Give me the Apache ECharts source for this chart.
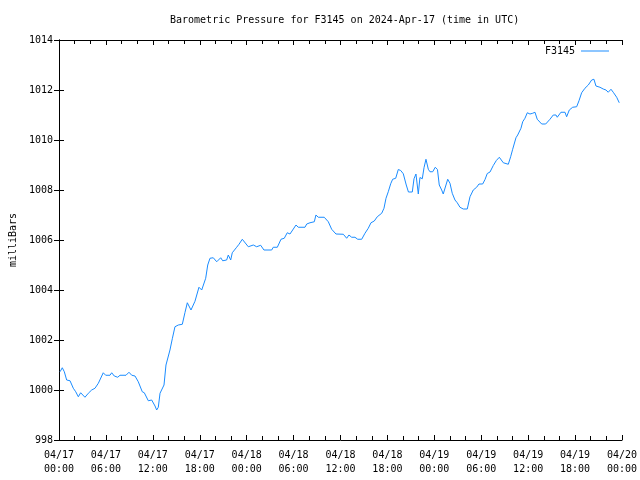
<!DOCTYPE html>
<html>
<head>
<meta charset="utf-8">
<script src="https://cdn.jsdelivr.net/npm/echarts@6/dist/echarts.min.js"></script>
<style>html,body{margin:0;padding:0;background:#fff;}#c{width:640px;height:480px;}</style>
</head>
<body>
<div id="c"></div>
<script>
// hours since 2024-04-17 00:00 UTC
var hours = [0.13,0.42,0.68,0.98,1.41,1.83,2.14,2.47,2.77,3.32,3.75,4.18,4.60,5.03,5.66,5.97,6.52,6.74,7.07,7.51,7.80,8.57,8.95,9.30,9.72,10.14,10.65,10.91,11.42,11.85,12.28,12.49,12.70,12.92,13.13,13.43,13.68,14.19,14.49,14.83,15.26,15.77,16.11,16.41,16.88,17.39,17.90,18.25,18.45,18.76,19.02,19.31,19.73,20.17,20.68,20.93,21.44,21.65,21.96,22.16,22.72,23.02,23.44,24.21,24.85,25.28,25.79,26.21,27.20,27.40,27.92,28.39,28.81,29.19,29.54,30.31,30.60,31.46,31.68,32.10,32.65,32.86,33.16,33.92,34.44,34.87,35.42,36.36,36.79,37.08,37.43,37.85,38.20,38.71,39.13,39.55,39.90,40.32,40.70,41.27,41.56,41.82,42.11,42.42,42.67,43.06,43.39,43.70,44.03,44.41,44.69,45.18,45.40,45.65,45.95,46.16,46.46,46.68,46.93,47.23,47.44,47.79,48.12,48.40,48.63,48.94,49.14,49.49,49.71,50.00,50.29,50.64,50.93,51.28,51.70,52.21,52.56,52.98,53.41,53.71,54.18,54.48,54.77,55.12,55.54,55.93,56.31,56.49,56.82,57.03,57.46,57.76,58.02,58.22,58.44,58.66,58.86,59.08,59.30,59.59,59.89,60.23,60.58,60.87,61.16,61.73,62.24,62.79,63.21,63.56,63.72,64.19,64.71,64.92,65.26,65.69,66.20,66.50,66.84,67.26,67.69,68.12,68.41,68.67,68.89,69.18,69.60,69.95,70.24,70.59,70.88,71.32,71.65];
var pressure = [1000.73,1000.89,1000.73,1000.40,1000.37,1000.07,999.93,999.73,999.89,999.71,999.87,1000.00,1000.07,1000.27,1000.69,1000.59,1000.59,1000.69,1000.56,1000.51,1000.59,1000.59,1000.71,1000.59,1000.56,1000.33,999.93,999.89,999.57,999.60,999.36,999.20,999.31,999.87,999.93,1000.20,1001.00,1001.60,1002.05,1002.53,1002.60,1002.63,1003.10,1003.49,1003.20,1003.55,1004.11,1004.00,1004.00,1004.47,1005.00,1005.27,1005.29,1005.13,1005.29,1005.17,1005.20,1005.40,1005.20,1005.49,1005.71,1005.83,1006.03,1005.73,1005.80,1005.73,1005.79,1005.60,1005.60,1005.71,1005.71,1006.03,1006.07,1006.29,1006.24,1006.60,1006.51,1006.51,1006.64,1006.69,1006.73,1007.00,1006.91,1006.91,1006.73,1006.43,1006.24,1006.23,1006.07,1006.20,1006.11,1006.11,1006.03,1006.03,1006.27,1006.47,1006.69,1006.76,1006.93,1007.07,1007.27,1007.67,1007.93,1008.25,1008.43,1008.47,1008.82,1008.78,1008.65,1008.20,1007.92,1007.92,1008.45,1008.64,1007.84,1008.50,1008.45,1008.89,1009.23,1008.83,1008.73,1008.73,1008.91,1008.82,1008.20,1008.00,1007.84,1008.20,1008.43,1008.27,1007.87,1007.60,1007.49,1007.31,1007.24,1007.24,1007.73,1008.00,1008.11,1008.24,1008.24,1008.42,1008.66,1008.72,1008.98,1009.18,1009.31,1009.31,1009.09,1009.03,1009.03,1009.33,1009.63,1009.71,1010.09,1010.20,1010.13,1010.47,1010.73,1010.87,1011.09,1011.04,1011.07,1011.11,1010.83,1010.64,1010.64,1010.83,1011.00,1011.00,1010.91,1011.11,1011.11,1010.93,1011.20,1011.31,1011.33,1011.57,1011.89,1012.07,1012.20,1012.40,1012.43,1012.16,1012.23,1012.11,1012.04,1012.00,1011.91,1012.03,1011.91,1011.71,1011.49];
var xTickLabels = ["04/17\n00:00","04/17\n06:00","04/17\n12:00","04/17\n18:00","04/18\n00:00","04/18\n06:00","04/18\n12:00","04/18\n18:00","04/19\n00:00","04/19\n06:00","04/19\n12:00","04/19\n18:00","04/20\n00:00"];
var seriesName = "F3145";
var titleText = "Barometric Pressure for F3145 on 2024-Apr-17 (time in UTC)";
var yName = "milliBars";

var data = hours.map(function(h, i){ return [h, pressure[i]]; });
var FONT = "DejaVu Sans Mono";
var lineCol = "#1a8cff";

var chart = echarts.init(document.getElementById('c'), null, {renderer: 'canvas'});
var axisLineStyle = {show: true, lineStyle: {color: '#000', width: 1}};
chart.setOption({
  animation: false,
  backgroundColor: '#fff',
  title: {
    text: titleText, left: 165, top: 10,
    textStyle: {fontFamily: FONT, fontSize: 10, fontWeight: 'normal', color: '#000'}
  },
  legend: {
    data: [{name: seriesName, icon: 'rect'}],
    right: 31, top: 46, align: 'right', padding: 0,
    itemWidth: 28, itemHeight: 1, itemGap: 5,
    textStyle: {fontFamily: FONT, fontSize: 10, color: '#000', padding: [0, 1, 0, 0]}
  },
  grid: {left: 59, right: 18, top: 40, bottom: 40, containLabel: false, outerBoundsMode: 'none'},
  xAxis: [{
    type: 'value', min: 0, max: 72, interval: 6, position: 'bottom',
    axisLine: axisLineStyle,
    axisTick: {show: true, inside: true, length: 5, lineStyle: {color: '#000'}},
    minorTick: {show: true, splitNumber: 3, length: 4, lineStyle: {color: '#000'}},
    splitLine: {show: false},
    axisLabel: {
      margin: 8, fontFamily: FONT, fontSize: 10, color: '#000', lineHeight: 14,
      formatter: function(v){ return xTickLabels[Math.round(v / 6)]; }
    }
  }, {
    type: 'value', min: 0, max: 72, interval: 6, position: 'top',
    axisLine: axisLineStyle,
    axisTick: {show: true, inside: true, length: 5, lineStyle: {color: '#000'}},
    minorTick: {show: true, splitNumber: 3, length: 4, lineStyle: {color: '#000'}},
    splitLine: {show: false},
    axisLabel: {show: false}
  }],
  yAxis: [{
    type: 'value', min: 998, max: 1014, interval: 2, position: 'left',
    name: yName, nameLocation: 'middle', nameGap: 38, nameRotate: 90,
    nameTextStyle: {fontFamily: FONT, fontSize: 10, color: '#000'},
    axisLine: axisLineStyle,
    axisTick: {show: true, inside: true, length: 5, lineStyle: {color: '#000'}},
    splitLine: {show: false},
    axisLabel: {margin: 6, fontFamily: FONT, fontSize: 10, color: '#000',
      formatter: function(v){ return String(v); }}
  }, {
    type: 'value', min: 998, max: 1014, interval: 2, position: 'right',
    axisLine: axisLineStyle,
    axisTick: {show: true, inside: true, length: 5, lineStyle: {color: '#000'}},
    splitLine: {show: false},
    axisLabel: {show: false}
  }],
  series: [{
    name: seriesName, type: 'line', data: data,
    xAxisIndex: 0, yAxisIndex: 0,
    showSymbol: false, symbol: 'none',
    lineStyle: {color: lineCol, width: 1},
    itemStyle: {color: lineCol}
  }]
});
</script>
</body>
</html>
